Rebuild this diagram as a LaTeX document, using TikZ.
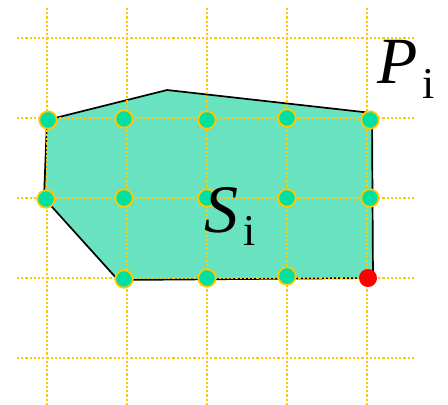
\documentclass[tikz,border=0pt]{standalone}
\usepackage{fontspec}
\setmainfont{Liberation Serif}
\definecolor{gridgold}{RGB}{255,200,0}
\definecolor{dotteal}{RGB}{0,224,160}
\definecolor{polyfill}{RGB}{105,226,192}
\definecolor{dotred}{RGB}{255,0,0}
\tikzset{
  gridline/.style={gridgold, line width=2pt, dash pattern=on 2.2pt off 2pt},
  gdot/.style={circle, fill=dotteal, draw=gridgold, line width=1.8pt, minimum size=17.5pt, inner sep=0pt},
  rdot/.style={circle, fill=dotred, minimum size=18pt, inner sep=0pt},
  poly/.style={draw=black, line width=1.7pt, fill=polyfill, line join=round},
  lbl/.style={inner sep=0pt, anchor=base west}
}
\begin{document}
\begin{tikzpicture}[x=1pt,y=-1pt]
\useasboundingbox (0,0) rectangle (448,405);
% polygon corners
\coordinate (c1) at (47,120);
\coordinate (c2) at (167,90);
\coordinate (c3) at (372,113);
\coordinate (c4) at (373,278);
\coordinate (c5) at (118,280);
\coordinate (c6) at (44,198);
\draw[poly] (c1) -- (c2) -- (c3) -- (c4) -- (c5) -- (c6) -- cycle;
% grid
\foreach \x in {47,127,207,287,367} {
  \coordinate (vt\x) at (\x,8);
  \coordinate (vb\x) at (\x,405);
  \draw[gridline] (vt\x) -- (vb\x);
}
\foreach \y in {38,118,198,278,358} {
  \coordinate (hl\y) at (17,\y);
  \coordinate (hr\y) at (415,\y);
  \draw[gridline] (hl\y) -- (hr\y);
}
% dots
\node[gdot] (d11) at (48,120) {};
\node[gdot] (d12) at (124,119) {};
\node[gdot] (d13) at (207,120) {};
\node[gdot] (d14) at (287,118) {};
\node[gdot] (d15) at (370,120) {};
\node[gdot] (d21) at (46,199) {};
\node[gdot] (d22) at (124,198) {};
\node[gdot] (d23) at (207,198) {};
\node[gdot] (d24) at (287,198) {};
\node[gdot] (d25) at (370,198) {};
\node[gdot] (d32) at (124,279) {};
\node[gdot] (d33) at (207,278) {};
\node[gdot] (d34) at (287,276) {};
\node[rdot] (d35) at (368,278) {};
% labels
\node[lbl] (P) at (377,83) {\fontsize{66}{68}\selectfont\itshape P\hspace{5pt}\raisebox{-15pt}{\upshape\fontsize{44}{44}\selectfont i}};
\node[lbl] (S) at (204,232) {\fontsize{68}{70}\selectfont\itshape S\hspace{5pt}\raisebox{-13pt}{\upshape\fontsize{44}{44}\selectfont i}};
\end{tikzpicture}
\end{document}
